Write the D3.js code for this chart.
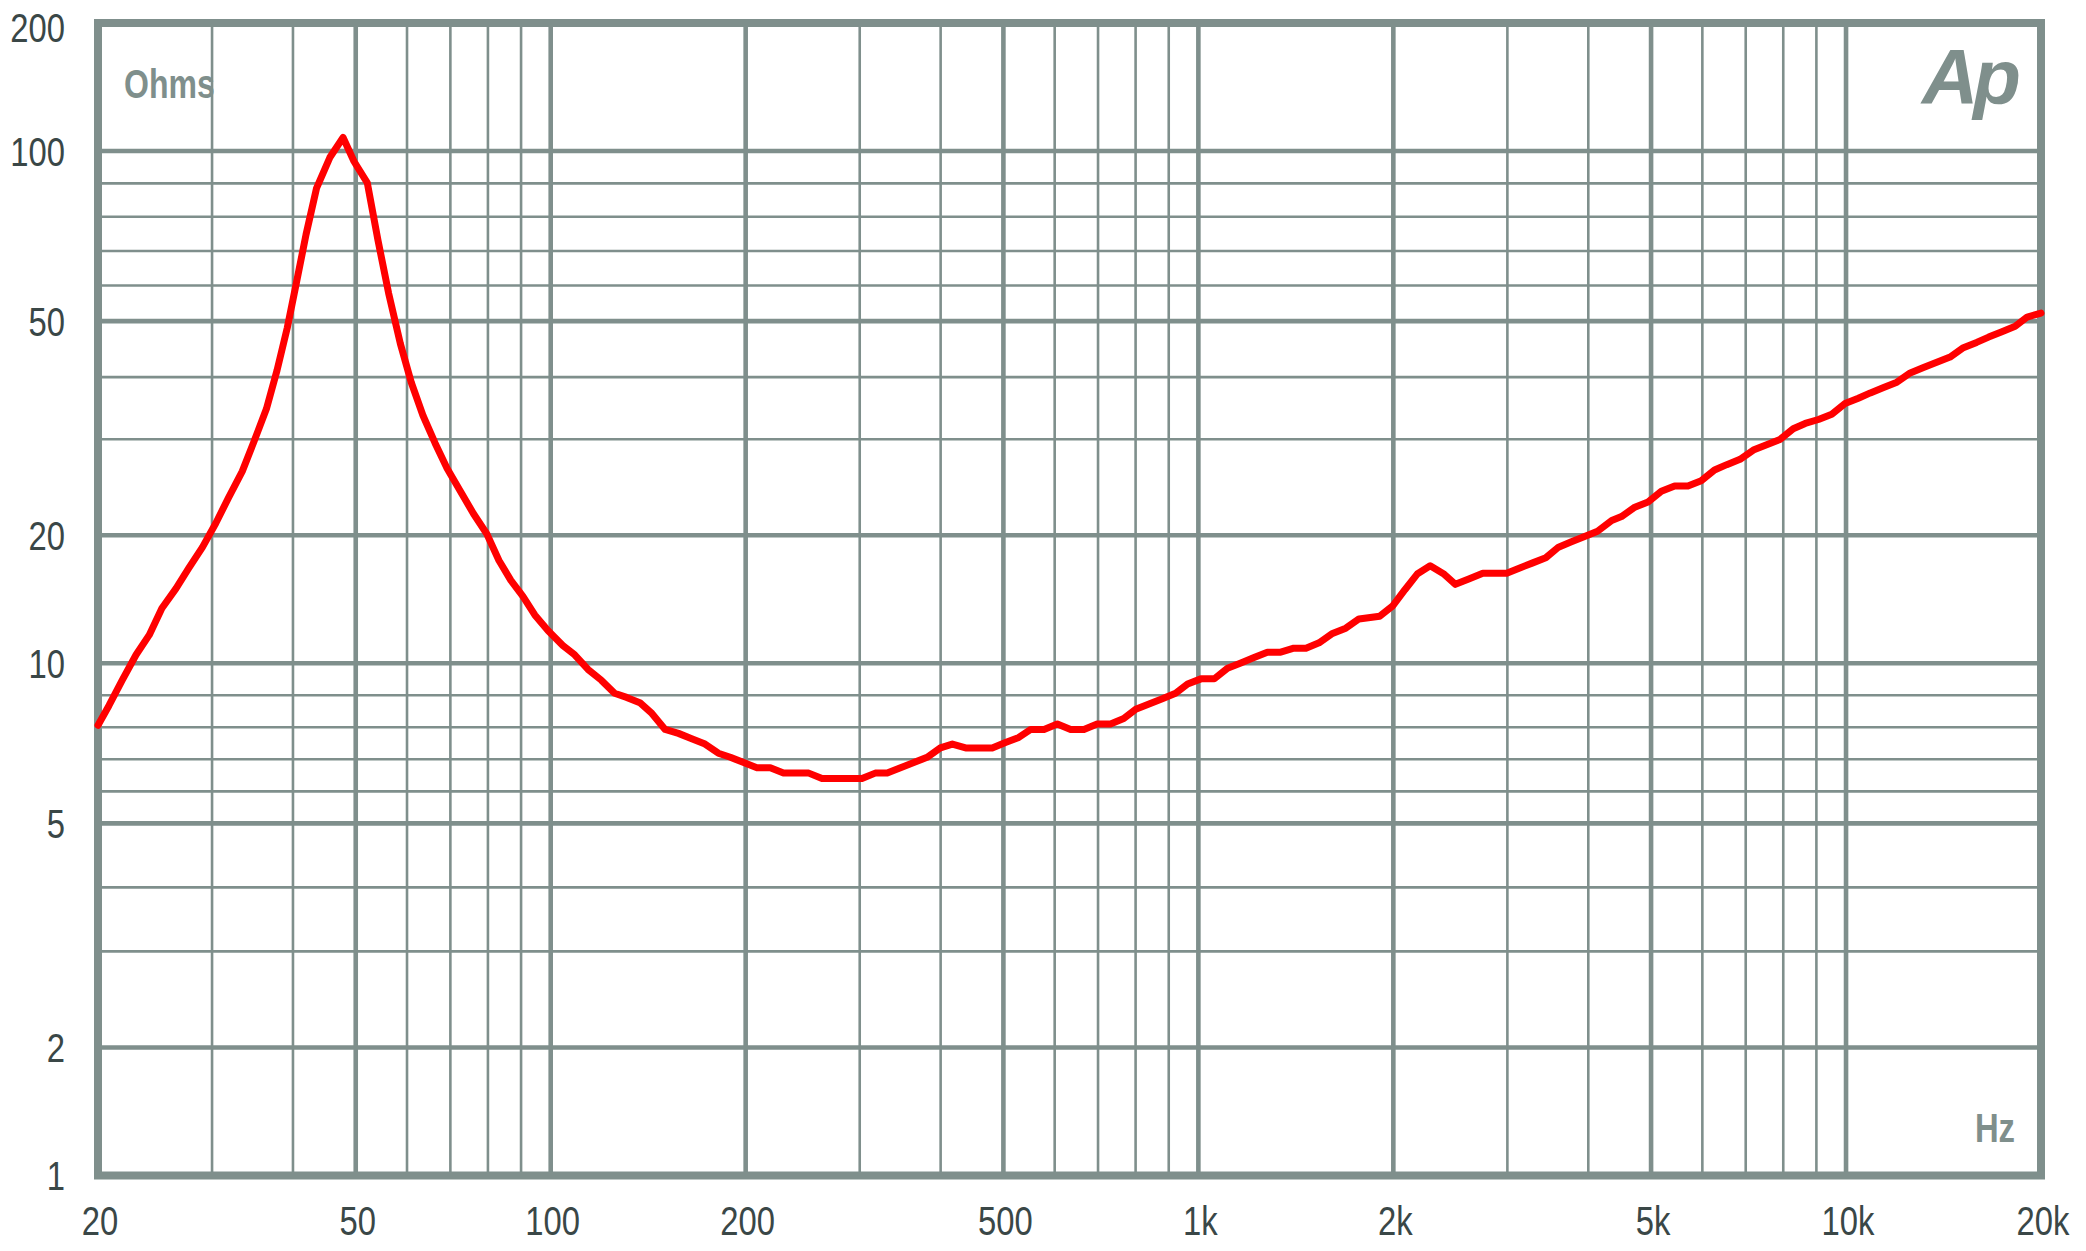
<!DOCTYPE html>
<html>
<head>
<meta charset="utf-8">
<script src="https://cdn.jsdelivr.net/npm/d3@7"></script>
<style>
  html, body { margin: 0; padding: 0; background: #ffffff; }
  svg { display: block; }
</style>
</head>
<body>
<svg id="chart" width="2086" height="1251"></svg>
<script>
// ---------------- data ----------------
const freqs = [
  20, 20.8, 21.8, 22.9, 24.0, 25.1, 26.4, 27.6, 29.0, 30.4,
  31.8, 33.4, 34.8, 36.4, 37.8, 39.2, 40.5, 41.9, 43.5, 45.6,
  47.8, 49.7, 52.1, 54.1, 56.2, 58.6, 60.9, 63.5, 66.3, 69.2,
  72.5, 76.0, 79.7, 83.2, 86.8, 90.6, 94.5, 99.1, 104.4, 108.9,
  114.2, 119.7, 125.5, 131.0, 137.3, 143.3, 150.2, 157.5, 165.1, 173.1,
  181.5, 189.4, 198.6, 208.2, 218.3, 228.8, 238.8, 250.3, 262.4, 275.1,
  288.4, 302.4, 317.0, 330.8, 346.8, 363.6, 381.2, 399.6, 417.0, 437.2,
  458.3, 480.5, 503.7, 528.1, 551.1, 577.7, 605.7, 635.0, 665.7, 697.9,
  731.7, 767.0, 800.4, 839.1, 879.7, 922.3, 962.4, 1009, 1058, 1109,
  1163, 1219, 1278, 1340, 1404, 1466, 1536, 1611, 1689, 1770,
  1905, 1997, 2084, 2180, 2280, 2390, 2494, 2615, 2749, 2868,
  2993, 3135, 3283, 3439, 3598, 3767, 3948, 4134, 4347, 4501,
  4719, 4947, 5186, 5437, 5700, 5976, 6265, 6544, 6861, 7193,
  7541, 7906, 8288, 8649, 9067, 9506, 9966, 10448, 10903, 11430,
  11983, 12563, 13171, 13808, 14476, 15176, 15910, 16602, 17405, 18247,
  19040, 20000
];
const ohms = [
  8.06, 8.67, 9.46, 10.47, 11.66, 13.47, 15.0, 16.71, 18.75, 21.04,
  23.41, 26.19, 29.64, 34.53, 41.11, 48.70, 60.79, 74.61, 88.50, 97.90,
  107.6, 96.64, 90.15, 73.07, 57.68, 45.70, 39.07, 33.48, 29.5, 26.5,
  24.1, 21.9, 20.1, 17.45, 15.66, 14.37, 12.99, 11.92, 11.01, 10.47,
  9.80, 9.46, 9.06, 8.93, 8.76, 8.42, 7.93, 7.80, 7.63, 7.46,
  7.18, 7.06, 6.89, 6.72, 6.72, 6.55, 6.55, 6.55, 6.38, 6.38,
  6.38, 6.38, 6.55, 6.55, 6.72, 6.89, 7.06, 7.34, 7.46, 7.34,
  7.34, 7.34, 7.51, 7.67, 7.93, 7.93, 8.10, 7.93, 7.93, 8.10,
  8.10, 8.26, 8.55, 8.72, 8.89, 9.06, 9.34, 9.50, 9.50, 9.84,
  10.02, 10.32, 10.62, 10.62, 10.85, 10.85, 11.17, 11.75, 12.09, 12.71,
  12.90, 13.66, 14.89, 16.24, 16.95, 16.24, 15.33, 15.78, 16.28, 16.28,
  16.28, 16.75, 17.22, 17.70, 18.75, 19.30, 19.86, 20.34, 21.28, 21.64,
  22.51, 23.02, 24.07, 24.62, 24.62, 25.18, 26.34, 26.94, 27.55, 28.65,
  29.31, 29.96, 31.48, 32.27, 32.87, 33.69, 35.39, 36.27, 37.18, 38.11,
  39.07, 40.67, 41.55, 42.44, 43.34, 44.98, 45.94, 46.92, 47.93, 48.97,
  51.04, 52.08
];
const xTickValues = [20, 50, 100, 200, 500, 1000, 2000, 5000, 10000, 20000];
const xTickLabels = ["20", "50", "100", "200", "500", "1k", "2k", "5k", "10k", "20k"];
const xMajorGrid = [50, 100, 200, 500, 1000, 2000, 5000, 10000];
const xMinorGrid = [30, 40, 60, 70, 80, 90, 300, 400, 600, 700, 800, 900,
                    3000, 4000, 6000, 7000, 8000, 9000];
const yTickValues = [1, 2, 5, 10, 20, 50, 100, 200];
const yTickLabels = ["1", "2", "5", "10", "20", "50", "100", "200"];
const yMajorGrid = [2, 5, 10, 20, 50, 100];
const yMinorGrid = [3, 4, 6, 7, 8, 9, 30, 40, 60, 70, 80, 90];
const yUnitLabel = "Ohms";
const xUnitLabel = "Hz";
const logoText = "Ap";

// ---------------- layout ----------------
const W = 2086, H = 1251;
const plotLeft = 98, plotRight = 2041, plotTop = 23, plotBottom = 1175.5;
// the original's grid places 1..9 within each decade at these fractions of a decade
const lowerDecadeFrac = [0, 0.25, 0.4375, 0.5625, 0.6875, 0.75, 0.8125, 0.875, 0.9375];
const upperDecadeFrac = [0, 0.25, 0.4375, 0.5586, 0.668, 0.7376, 0.805, 0.8716, 0.937];
const decadeFracs = [lowerDecadeFrac, upperDecadeFrac, upperDecadeFrac];
const decadePx = (plotBottom - plotTop) / (2 + 0.25);

const gridColor = "#7f8f8c";
const textColor = "#3a4747";
const curveColor = "#ff0000";

const svg = d3.select("#chart");
svg.append("rect").attr("width", W).attr("height", H).attr("fill", "#ffffff");

const x = d3.scaleLog().domain([20, 20000]).range([plotLeft, plotRight]);

// piecewise log scale following the original's grid spacing
const yDom = [], yRng = [];
[1, 10, 100].forEach((dec, di) => {
  decadeFracs[di].forEach((f, k) => {
    const v = dec * (k + 1);
    if (v <= 200) { yDom.push(v); yRng.push(plotBottom - (di + f) * decadePx); }
  });
});
const y = d3.scaleLog().domain(yDom).range(yRng);

const g = svg.append("g");

// grid
g.selectAll("line.xminor").data(xMinorGrid).join("line")
  .attr("x1", d => x(d)).attr("x2", d => x(d))
  .attr("y1", plotTop).attr("y2", plotBottom)
  .attr("stroke", gridColor).attr("stroke-width", 2.6);
g.selectAll("line.yminor").data(yMinorGrid).join("line")
  .attr("y1", d => y(d)).attr("y2", d => y(d))
  .attr("x1", plotLeft).attr("x2", plotRight)
  .attr("stroke", gridColor).attr("stroke-width", 2.6);
g.selectAll("line.xmajor").data(xMajorGrid).join("line")
  .attr("x1", d => x(d)).attr("x2", d => x(d))
  .attr("y1", plotTop).attr("y2", plotBottom)
  .attr("stroke", gridColor).attr("stroke-width", 4.6);
g.selectAll("line.ymajor").data(yMajorGrid).join("line")
  .attr("y1", d => y(d)).attr("y2", d => y(d))
  .attr("x1", plotLeft).attr("x2", plotRight)
  .attr("stroke", gridColor).attr("stroke-width", 4.6);

// frame
g.append("rect")
  .attr("x", x(20)).attr("y", y(200))
  .attr("width", x(20000) - x(20)).attr("height", y(1) - y(200))
  .attr("fill", "none").attr("stroke", gridColor).attr("stroke-width", 8);

// condensed look: Liberation Sans squeezed horizontally
const font = "'Liberation Sans', Arial, sans-serif";
const squeeze = 0.8;

g.selectAll("text.ylab").data(yTickValues).join("text")
  .attr("transform", d => `translate(65,${Math.max(y(d), 27) + 14.5}) scale(${squeeze},1)`)
  .attr("text-anchor", "end")
  .attr("font-family", font).attr("font-size", 41)
  .attr("fill", textColor)
  .text((d, i) => yTickLabels[i]);
g.selectAll("text.xlab").data(xTickValues).join("text")
  .attr("transform", d => `translate(${x(d) + 2},1235) scale(${squeeze},1)`)
  .attr("text-anchor", "middle")
  .attr("font-family", font).attr("font-size", 41)
  .attr("fill", textColor)
  .text((d, i) => xTickLabels[i]);

// unit labels
g.append("text").attr("transform", `translate(124,98) scale(${squeeze},1)`)
  .attr("font-family", font).attr("font-weight", "bold").attr("font-size", 40)
  .attr("fill", gridColor).text(yUnitLabel);
g.append("text").attr("transform", `translate(2015,1142) scale(${squeeze},1)`)
  .attr("text-anchor", "end")
  .attr("font-family", font).attr("font-weight", "bold").attr("font-size", 41)
  .attr("fill", gridColor).text(xUnitLabel);

// logo
g.append("text").attr("x", 1922).attr("y", 104)
  .attr("font-family", font).attr("font-weight", "bold")
  .attr("font-style", "italic").attr("font-size", 78).attr("letter-spacing", -5)
  .attr("fill", gridColor).text(logoText);

// curve
const pts = freqs.map((f, i) => [f, ohms[i]]);
const line = d3.line().x(d => x(d[0])).y(d => y(d[1]));
g.append("path").datum(pts)
  .attr("d", line)
  .attr("fill", "none")
  .attr("stroke", curveColor)
  .attr("stroke-width", 7)
  .attr("stroke-linejoin", "round")
  .attr("stroke-linecap", "round");
</script>
</body>
</html>
